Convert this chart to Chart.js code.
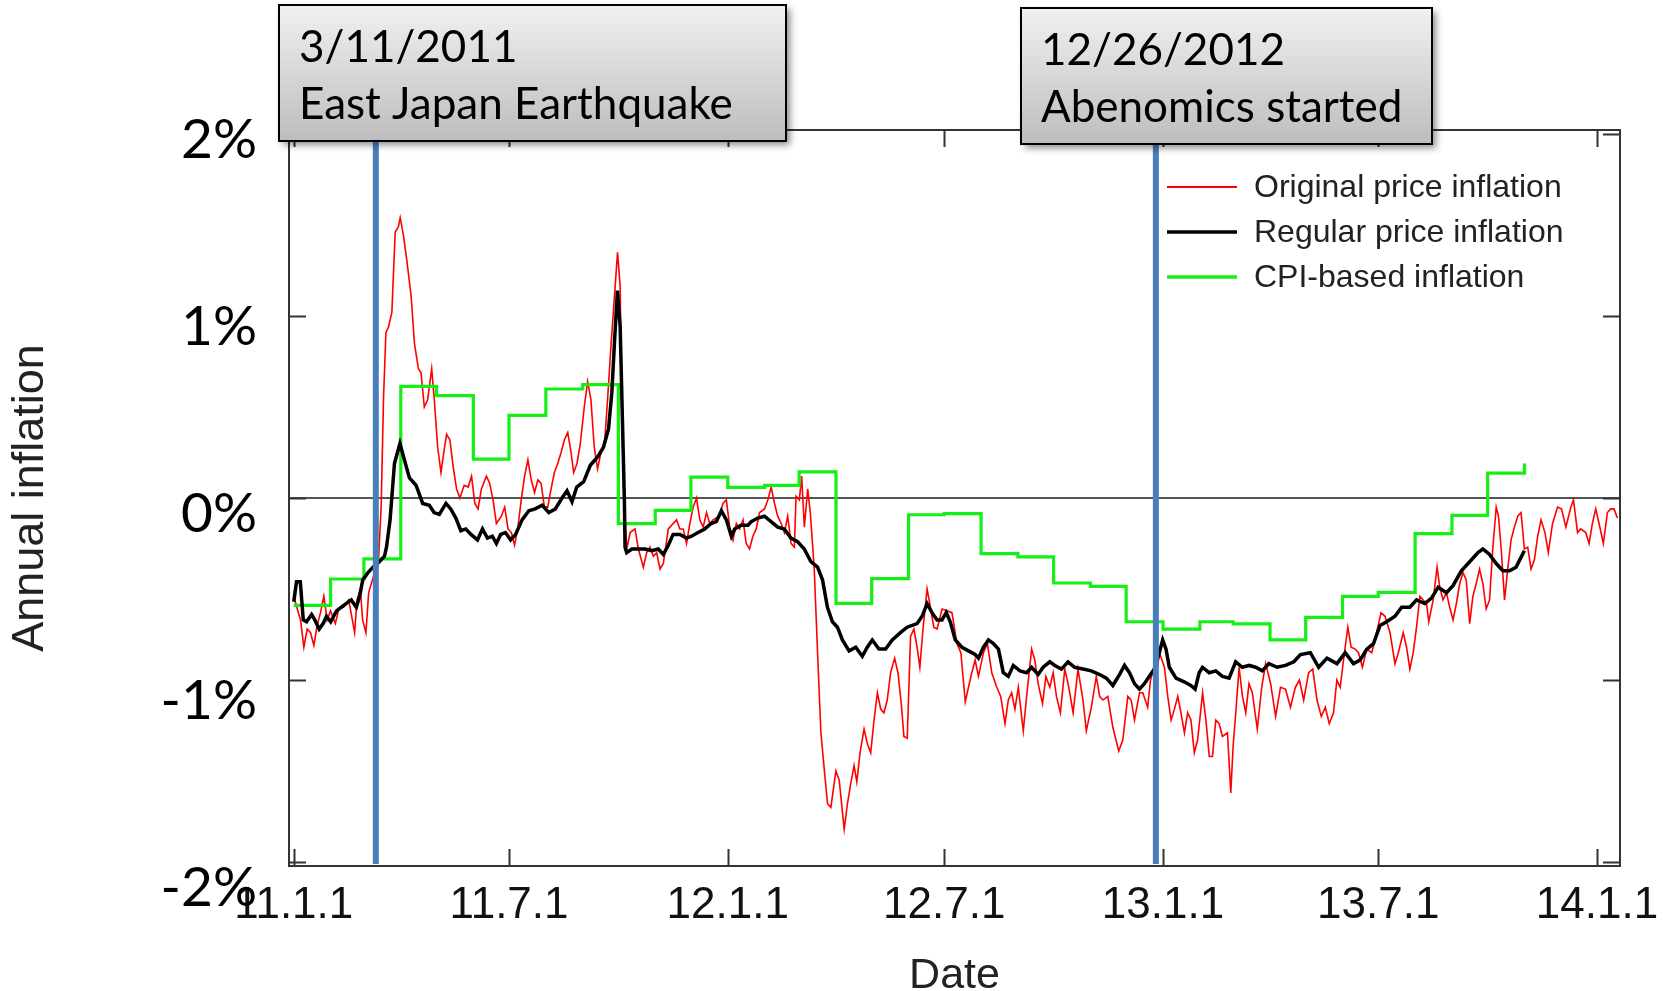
<!DOCTYPE html>
<html>
<head>
<meta charset="utf-8">
<script src="https://cdn.jsdelivr.net/npm/chart.js@4.4.1/dist/chart.umd.min.js"></script>
<style>
  html, body { margin: 0; padding: 0; background: #ffffff; }
  #wrap { width: 1672px; height: 991px; position: relative; }
  canvas { display: block; }
</style>
</head>
<body>
<div id="wrap"><canvas id="chart" width="1672" height="991"></canvas></div>
<script>
// ---- Data (x = days since 2011-01-01, y = annual inflation in %) ----

const seriesNames = ['Original price inflation', 'Regular price inflation', 'CPI-based inflation'];

// Original (posted) price inflation
const originalDays = [
  0, 3, 5.7, 8.5, 11.3, 14.1, 16.9, 19.7, 22.5, 25.3, 28.1, 30.9, 35, 37.8, 42, 46.2, 49, 51.2, 53.2, 56,
  57.9, 60.7, 63, 68, 71, 73.5, 75.5, 77.5, 79.7, 82.5, 85.3, 88, 89.5, 92.3, 95, 98.7, 101.5, 104.8, 107, 109.8,
  112.6, 116, 118.2, 121, 123.8, 126.6, 128.5, 131.3, 134.1, 136.9, 139.7, 143.3, 146.7, 149.5, 152.3, 155, 157.8, 162, 164.8, 167.6,
  170.4, 174.6, 177.4, 180.2, 183, 185.7, 188.5, 191.3, 194.1, 196.9, 199.7, 202.5, 205.3, 208, 210.8, 213.6, 216.4, 219.2, 222, 224.8,
  227.6, 230.4, 233.2, 235.4, 238.2, 241, 244.3, 247.1, 249.9, 252.7, 255.5, 258.3, 261.1, 263.9, 266.7, 269.5, 272.3, 274.5, 275.5, 277.3,
  280, 282.9, 287, 289.8, 294, 296.8, 299.6, 302.4, 305.2, 308, 310.8, 315, 319.1, 321.9, 324.7, 327.5, 330.3, 333.1, 335.9, 338.7,
  341.5, 344.3, 347.1, 349.8, 352.6, 355.4, 358.2, 361, 363.8, 366.6, 369.4, 372.2, 375, 377.8, 380.5, 383.3, 386.1, 388.9, 391.7, 395.9,
  398.7, 401.5, 404.3, 407, 409.9, 412.6, 415.4, 418.2, 421, 422.4, 425.2, 427.1, 429.4, 432.2, 434.4, 437.7, 440.5, 443.3, 446.1, 448.9,
  451.7, 455.9, 458.7, 462.9, 465.6, 468.4, 471.2, 473.5, 476.2, 479.6, 482.4, 485.2, 488, 490.8, 493.6, 496.3, 499.1, 501.9, 505.3, 508.1,
  510.9, 513.1, 515.9, 518.7, 521.5, 524.2, 526.5, 529.3, 532.6, 535.4, 538.2, 541, 545.2, 549.4, 553.5, 557.7, 561, 564.7, 567.4, 570.2,
  573, 575.8, 580, 583.3, 587, 591.2, 594.5, 598.1, 600.9, 603.7, 606.5, 609.3, 613.5, 616.3, 620.5, 623.2, 626, 629.7, 632.5, 635.8,
  638.6, 641.4, 644.7, 648.4, 651.2, 655.4, 659.5, 663.7, 666.5, 670.7, 674.9, 677.7, 680.5, 684.6, 688.8, 693.8, 697.2, 701.4, 704.2, 707,
  711.2, 714, 718.1, 720.5, 723.5, 726, 728, 732.2, 735, 737.8, 740.6, 743.4, 746.1, 749, 751.7, 754.5, 757.3, 760.1, 764.3, 767.1,
  769.9, 772.6, 775.4, 778.2, 781, 785.2, 788, 790, 792.2, 795, 797.8, 800.6, 803.3, 806.1, 810.3, 814, 817.3, 821.5, 825.7, 829.8,
  834, 838.2, 842.3, 845.7, 849.3, 853.5, 856.9, 860.5, 864.1, 867.5, 870.8, 874.4, 877.2, 880, 882.8, 886.4, 889.2, 892.6, 895.4, 898.7,
  902.3, 906.5, 909.3, 914.3, 917.7, 921.9, 926.1, 928.9, 933, 935.8, 938.6, 941.4, 944.2, 947, 949.8, 952.6, 954.5, 958.2, 961.5, 963.7,
  966.5, 969.3, 972.1, 974.9, 977.7, 980.5, 983.3, 986, 988.9, 991.6, 994.4, 997.2, 1000, 1002.8, 1005.6, 1008.4, 1011.2, 1013.1, 1015.4, 1018.2,
  1020.9, 1023.7, 1026.5, 1029.3, 1032.1, 1034.9, 1037.7, 1040.5, 1043.3, 1046.1, 1048.9, 1052.2, 1055, 1058.6, 1062.8, 1066.1, 1069.8, 1074, 1076.2, 1079.6,
  1082.3, 1086.5, 1089.3, 1092.1, 1094.9, 1097.7, 1101.3, 1104.7, 1107.5, 1110.3, 1113.1
];
const originalValues = [
  -0.54, -0.61, -0.67, -0.82, -0.72, -0.74, -0.81, -0.70, -0.63, -0.54, -0.67, -0.62, -0.69, -0.61, -0.60, -0.56, -0.66, -0.74, -0.56, -0.50,
  -0.67, -0.74, -0.52, -0.41, -0.37, -0.05, 0.55, 0.91, 0.94, 1.02, 1.46, 1.49, 1.54, 1.44, 1.31, 1.11, 0.85, 0.71, 0.69, 0.50,
  0.54, 0.71, 0.54, 0.28, 0.14, 0.27, 0.35, 0.32, 0.17, 0.05, 0.00, 0.07, 0.06, 0.12, -0.03, -0.06, 0.05, 0.12, 0.08, -0.01,
  -0.14, -0.10, -0.05, -0.17, -0.19, -0.26, -0.16, -0.01, 0.12, 0.21, 0.10, 0.03, 0.10, 0.08, -0.05, -0.05, 0.05, 0.14, 0.19, 0.25,
  0.32, 0.36, 0.25, 0.14, 0.19, 0.30, 0.50, 0.64, 0.54, 0.28, 0.16, 0.25, 0.28, 0.54, 0.83, 1.09, 1.35, 1.16, 0.60, 0.06,
  -0.28, -0.19, -0.17, -0.28, -0.38, -0.30, -0.27, -0.32, -0.30, -0.39, -0.36, -0.17, -0.14, -0.12, -0.17, -0.17, -0.25, -0.14, -0.05, 0.00,
  -0.12, -0.16, -0.08, -0.14, -0.12, -0.11, -0.09, -0.03, -0.01, -0.16, -0.23, -0.14, -0.17, -0.12, -0.25, -0.28, -0.21, -0.17, -0.08, -0.06,
  -0.01, 0.06, -0.03, -0.10, -0.14, -0.19, -0.10, -0.25, -0.27, 0.01, -0.01, 0.12, -0.16, 0.05, -0.08, -0.39, -0.85, -1.29, -1.49, -1.68,
  -1.70, -1.50, -1.55, -1.82, -1.68, -1.57, -1.47, -1.56, -1.40, -1.27, -1.35, -1.40, -1.22, -1.07, -1.16, -1.18, -1.11, -0.96, -0.88, -0.96,
  -1.13, -1.31, -1.32, -0.76, -0.72, -0.82, -0.93, -0.71, -0.50, -0.60, -0.71, -0.72, -0.61, -0.62, -0.63, -0.80, -0.85, -1.12, -1.04, -0.96,
  -0.89, -0.98, -0.85, -0.80, -0.96, -1.04, -1.09, -1.24, -1.11, -1.07, -1.16, -1.04, -1.28, -1.09, -0.83, -0.89, -1.02, -1.13, -0.98, -1.04,
  -0.96, -1.09, -1.18, -0.94, -1.02, -1.18, -0.94, -1.11, -1.28, -1.15, -0.98, -1.09, -1.11, -1.09, -1.26, -1.39, -1.33, -1.09, -1.11, -1.22,
  -1.07, -1.07, -1.15, -1.00, -0.93, -0.95, -0.85, -0.93, -1.09, -1.22, -1.16, -1.09, -1.18, -1.29, -1.18, -1.22, -1.40, -1.33, -1.07, -1.22,
  -1.42, -1.42, -1.22, -1.24, -1.31, -1.29, -1.62, -1.36, -1.18, -0.93, -1.09, -1.18, -1.02, -1.07, -1.27, -1.04, -0.91, -1.02, -1.20, -1.04,
  -1.05, -1.15, -1.04, -1.00, -1.11, -0.96, -0.94, -1.11, -1.20, -1.15, -1.24, -1.18, -1.00, -1.04, -0.89, -0.71, -0.82, -0.83, -0.85, -0.93,
  -0.83, -0.85, -0.78, -0.63, -0.65, -0.74, -0.91, -0.85, -0.74, -0.82, -0.94, -0.85, -0.71, -0.54, -0.56, -0.58, -0.68, -0.56, -0.38, -0.49,
  -0.56, -0.52, -0.60, -0.67, -0.58, -0.47, -0.41, -0.45, -0.69, -0.54, -0.47, -0.39, -0.47, -0.61, -0.56, -0.27, -0.05, -0.10, -0.28, -0.56,
  -0.39, -0.23, -0.16, -0.10, -0.08, -0.28, -0.27, -0.39, -0.34, -0.21, -0.12, -0.19, -0.30, -0.14, -0.05, -0.06, -0.16, -0.05, -0.01, -0.19,
  -0.17, -0.19, -0.25, -0.14, -0.06, -0.14, -0.25, -0.08, -0.06, -0.06, -0.11
];

// Regular price inflation (temporary sales removed)
const regularDays = [
  0, 2.3, 5.5, 8, 10.8, 15, 17.7, 21.4, 24.7, 27.5, 31, 36, 40, 44, 48.4, 52.6, 55.4, 58, 62.4, 66.6,
  72, 76.3, 78, 81, 84.7, 89.3, 93, 97.3, 102.8, 108.4, 114, 118, 122.4, 128, 132, 136.3, 140.5, 144.7, 149, 154.5,
  158.7, 162.9, 167, 170.4, 174, 178, 182.4, 186.6, 192, 197.7, 203, 209, 214.5, 220, 225.6, 229.8, 234, 238, 243.8, 249.4,
  256, 260.5, 264.7, 267.5, 270, 272.2, 274.5, 276.4, 278, 278.6, 280, 284.3, 290, 295.4, 301, 306.6, 310.8, 315, 319, 324.7,
  330.3, 334.5, 340, 345.6, 351, 355.4, 359.6, 363.8, 368, 370.8, 376.3, 382, 384.7, 390.2, 395.8, 401.4, 407, 412.6, 418.1, 423.7,
  429.3, 434.9, 440.5, 444.7, 448.8, 453, 457.2, 461.4, 467, 472.6, 478.1, 482.3, 486.5, 492.1, 497.7, 503.3, 510.2, 515.8, 524.2, 528.4,
  532.6, 536.7, 541, 545.1, 548.7, 552.1, 556.3, 561.9, 567.4, 573, 575.8, 580, 584.2, 588.4, 592.6, 596.7, 600.9, 605.1, 610.7, 616.3,
  620.5, 626, 630.2, 635.8, 640, 645.6, 651.1, 656.7, 663.7, 670.7, 677.7, 683.3, 688.8, 694.4, 698.6, 702.8, 707, 711.2, 715.3, 719.5,
  723.7, 727.9, 730.7, 733.5, 736.3, 741.9, 748.8, 754.4, 758, 761.4, 764.2, 769.8, 775.4, 781, 786.6, 792.1, 797.7, 803.3, 808.9, 814.5,
  820, 827, 834, 841, 846.6, 854.9, 861.9, 868.9, 877.3, 884.2, 891.2, 896.8, 902.4, 908, 913.5, 919.1, 926.1, 931.7, 938.6, 944.2,
  951.2, 956.8, 962.4, 969.4, 975, 981.9, 988.9, 995.9, 1000, 1005.6, 1011.2, 1016.8, 1022.4, 1027.9, 1034.9
];
const regularValues = [
  -0.57, -0.46, -0.46, -0.67, -0.68, -0.64, -0.67, -0.72, -0.69, -0.65, -0.68, -0.62, -0.60, -0.58, -0.56, -0.60, -0.54, -0.45, -0.41, -0.38,
  -0.35, -0.32, -0.27, -0.12, 0.19, 0.30, 0.21, 0.11, 0.07, -0.03, -0.04, -0.08, -0.09, -0.03, -0.06, -0.11, -0.18, -0.17, -0.20, -0.23,
  -0.17, -0.22, -0.21, -0.25, -0.20, -0.19, -0.23, -0.20, -0.12, -0.07, -0.06, -0.04, -0.08, -0.06, 0.00, 0.04, -0.02, 0.06, 0.09, 0.18,
  0.23, 0.28, 0.38, 0.58, 0.89, 1.14, 0.94, 0.43, 0.00, -0.27, -0.30, -0.28, -0.28, -0.28, -0.29, -0.28, -0.31, -0.26, -0.20, -0.20,
  -0.22, -0.21, -0.19, -0.17, -0.14, -0.13, -0.07, -0.12, -0.21, -0.17, -0.15, -0.15, -0.13, -0.11, -0.10, -0.13, -0.16, -0.17, -0.22, -0.24,
  -0.28, -0.35, -0.38, -0.45, -0.60, -0.68, -0.71, -0.78, -0.84, -0.82, -0.87, -0.82, -0.78, -0.83, -0.83, -0.78, -0.74, -0.71, -0.69, -0.65,
  -0.58, -0.63, -0.67, -0.67, -0.63, -0.68, -0.78, -0.82, -0.84, -0.86, -0.88, -0.82, -0.78, -0.80, -0.83, -0.96, -0.98, -0.92, -0.95, -0.96,
  -0.93, -0.97, -0.93, -0.90, -0.92, -0.94, -0.90, -0.93, -0.94, -0.95, -0.97, -0.99, -1.03, -0.97, -0.92, -0.96, -1.02, -1.05, -1.02, -0.98,
  -0.94, -0.85, -0.78, -0.83, -0.93, -0.99, -1.01, -1.03, -1.05, -0.96, -0.93, -0.96, -0.95, -0.98, -0.99, -0.90, -0.93, -0.92, -0.93, -0.95,
  -0.91, -0.93, -0.92, -0.90, -0.86, -0.85, -0.93, -0.88, -0.91, -0.85, -0.91, -0.89, -0.83, -0.80, -0.70, -0.68, -0.65, -0.60, -0.60, -0.56,
  -0.58, -0.55, -0.49, -0.52, -0.48, -0.40, -0.35, -0.30, -0.28, -0.31, -0.36, -0.40, -0.40, -0.38, -0.29
];

// CPI-based inflation, monthly (value holds from the first day of each month)
const cpiDays = [
  0, 31, 59, 90, 120, 151, 181, 212, 243, 273, 304, 334,
  365, 396, 425, 456, 486, 517, 547, 578, 609, 639, 670, 700,
  731, 762, 790, 821, 851, 882, 912, 943, 974, 1004, 1035
];
const cpiValues = [
  -0.59, -0.445, -0.335, 0.613, 0.562, 0.214, 0.454, 0.599, 0.623, -0.141, -0.068, 0.115,
  0.058, 0.069, 0.143, -0.579, -0.443, -0.092, -0.086, -0.306, -0.324, -0.467, -0.486, -0.68,
  -0.72, -0.68, -0.692, -0.779, -0.656, -0.54, -0.519, -0.196, -0.095, 0.137, 0.19
];

// Axis ticks
const xTickDays = [0, 181, 365, 547, 731, 912, 1096];
const xTickLabels = ['11.1.1', '11.7.1', '12.1.1', '12.7.1', '13.1.1', '13.7.1', '14.1.1'];
const yTickValues = [-2, -1, 0, 1, 2];
const yTickLabels = ['-2%', '-1%', '0%', '1%', '2%'];

// Events
const eventDays = [69, 725];
const eventDates = ['3/11/2011', '12/26/2012'];
const eventNames = ['East Japan Earthquake', 'Abenomics started'];

const toPoints = (xs, ys) => xs.map((x, i) => ({ x: x, y: ys[i] }));

// ---- Plugins ----

// Plot frame with inward tick marks on all four sides
const framePlugin = {
  id: 'frame',
  beforeDatasetsDraw(chart, args, o) {
    const { ctx, chartArea: a, scales } = chart;
    ctx.save();
    ctx.strokeStyle = o.color;
    ctx.lineWidth = o.width;
    ctx.strokeRect(a.left, a.top, a.right - a.left, a.bottom - a.top);
    ctx.beginPath();
    scales.x.ticks.forEach(t => {
      const px = Math.round(scales.x.getPixelForValue(t.value)) + 0.5;
      ctx.moveTo(px, a.bottom); ctx.lineTo(px, a.bottom - o.len);
      ctx.moveTo(px, a.top); ctx.lineTo(px, a.top + o.len);
    });
    scales.y.ticks.forEach(t => {
      const py = Math.round(scales.y.getPixelForValue(t.value)) + 0.5;
      ctx.moveTo(a.left, py); ctx.lineTo(a.left + o.len, py);
      ctx.moveTo(a.right, py); ctx.lineTo(a.right - o.len, py);
    });
    ctx.stroke();
    ctx.restore();
  }
};

// Vertical event markers
const eventLinePlugin = {
  id: 'eventLines',
  afterDatasetsDraw(chart, args, o) {
    const { ctx, chartArea: a, scales } = chart;
    ctx.save();
    ctx.strokeStyle = o.color;
    ctx.lineWidth = o.width;
    eventDays.forEach(d => {
      const px = scales.x.getPixelForValue(d);
      ctx.beginPath();
      ctx.moveTo(px, a.top);
      ctx.lineTo(px, a.bottom - 2);
      ctx.stroke();
    });
    ctx.restore();
  }
};

// Legend drawn inside the plot, top right
const insideLegendPlugin = {
  id: 'insideLegend',
  afterDatasetsDraw(chart, args, o) {
    const { ctx } = chart;
    ctx.save();
    ctx.font = o.font;
    ctx.textBaseline = 'middle';
    ctx.textAlign = 'left';
    chart.data.datasets.forEach((ds, i) => {
      const y = o.y + i * o.rowGap;
      ctx.strokeStyle = ds.borderColor;
      ctx.lineWidth = o.lineWidths[i];
      ctx.beginPath();
      ctx.moveTo(o.x, y);
      ctx.lineTo(o.x + o.lineLen, y);
      ctx.stroke();
      ctx.fillStyle = o.textColor;
      ctx.fillText(ds.label, o.x + o.lineLen + o.textGap, y + 1);
    });
    ctx.restore();
  }
};

// Percent labels beside the vertical axis
const percentLabelPlugin = {
  id: 'percentLabels',
  afterDraw(chart, args, o) {
    const { ctx, scales } = chart;
    ctx.save();
    ctx.font = o.font;
    ctx.fillStyle = o.color;
    ctx.textAlign = 'right';
    ctx.textBaseline = 'middle';
    yTickValues.forEach((v, i) => {
      const py = scales.y.getPixelForValue(v) * o.stretch + o.shift;
      ctx.fillText(yTickLabels[i], o.x, py);
    });
    ctx.restore();
  }
};

// Call-out boxes naming each event
const calloutPlugin = {
  id: 'callouts',
  afterDraw(chart, args, o) {
    const { ctx } = chart;
    o.boxes.forEach((b, i) => {
      ctx.save();
      ctx.shadowColor = 'rgba(0,0,0,0.45)';
      ctx.shadowBlur = 7;
      ctx.shadowOffsetX = 4;
      ctx.shadowOffsetY = 4;
      const g = ctx.createLinearGradient(0, b.top, 0, b.top + b.height);
      g.addColorStop(0, '#f1f1f1');
      g.addColorStop(1, '#bdbdbd');
      ctx.fillStyle = g;
      ctx.fillRect(b.left, b.top, b.width, b.height);
      ctx.restore();

      ctx.save();
      ctx.strokeStyle = '#000000';
      ctx.lineWidth = 2;
      ctx.strokeRect(b.left, b.top, b.width, b.height);
      ctx.font = o.font;
      ctx.fillStyle = '#000000';
      ctx.textAlign = 'left';
      ctx.textBaseline = 'alphabetic';
      ctx.fillText(eventDates[i], b.left + o.padLeft, b.top + o.line1);
      ctx.fillText(eventNames[i], b.left + o.padLeft, b.top + o.line2);
      ctx.restore();
    });
  }
};

// ---- Chart ----

const ctx = document.getElementById('chart').getContext('2d');
new Chart(ctx, {
  type: 'line',
  data: {
    datasets: [
      {
        label: seriesNames[0],
        data: toPoints(originalDays, originalValues),
        borderColor: '#ff0000',
        borderWidth: 1.6,
        pointRadius: 0,
        tension: 0,
        order: 2
      },
      {
        label: seriesNames[1],
        data: toPoints(regularDays, regularValues),
        borderColor: '#000000',
        borderWidth: 3.5,
        pointRadius: 0,
        tension: 0,
        order: 0
      },
      {
        label: seriesNames[2],
        data: toPoints(cpiDays, cpiValues),
        borderColor: '#16ef16',
        borderWidth: 3.2,
        pointRadius: 0,
        stepped: true,
        order: 1
      }
    ]
  },
  options: {
    responsive: false,
    animation: false,
    devicePixelRatio: 1,
    layout: { padding: { left: 0, right: 46, top: 130, bottom: 0 } },
    plugins: {
      legend: { display: false },
      tooltip: { enabled: false },
      frame: { color: '#333333', width: 2, len: 17 },
      eventLines: { color: '#4a7ebb', width: 6 },
      insideLegend: {
        x: 1167, y: 187, rowGap: 45, lineLen: 70, textGap: 17,
        lineWidths: [2, 3.5, 3.5],
        font: '32px "Liberation Sans", Arial, sans-serif', textColor: '#222222'
      },
      percentLabels: {
        x: 257, stretch: 1.028, shift: 2.5,
        font: '55px Lato, "Open Sans", sans-serif', color: '#000000'
      },
      callouts: {
        font: '44px Lato, "Open Sans", sans-serif',
        padLeft: 20, line1: 57, line2: 114,
        boxes: [
          { left: 279, top: 5, width: 507, height: 136 },
          { left: 1021, top: 8, width: 411, height: 136 }
        ]
      }
    },
    scales: {
      x: {
        type: 'linear',
        min: -4,
        max: 1115.3,
        afterBuildTicks: s => { s.ticks = xTickDays.map(v => ({ value: v })); },
        afterFit: s => { s.height = 125; },
        grid: { display: false, drawTicks: false },
        border: { display: false },
        ticks: {
          autoSkip: false,
          maxRotation: 0,
          padding: 13,
          color: '#111111',
          font: { family: '"Liberation Sans", Arial, sans-serif', size: 44 },
          callback: v => {
            const i = xTickDays.indexOf(v);
            return i >= 0 ? xTickLabels[i] : '';
          }
        },
        title: {
          display: true,
          text: 'Date',
          color: '#222222',
          font: { family: '"Liberation Sans", Arial, sans-serif', size: 43, lineHeight: 0.68 },
          padding: { top: 0, bottom: 0 }
        }
      },
      y: {
        type: 'linear',
        min: -2.022,
        max: 2.022,
        afterBuildTicks: s => { s.ticks = yTickValues.map(v => ({ value: v })); },
        afterFit: s => { s.width = 289; },
        grid: {
          drawTicks: false,
          lineWidth: 2,
          color: c => (c.tick && c.tick.value === 0 ? '#555555' : 'rgba(0,0,0,0)')
        },
        border: { display: false },
        ticks: { display: false },
        title: {
          display: true,
          text: 'Annual inflation',
          color: '#222222',
          font: { family: '"Liberation Sans", Arial, sans-serif', size: 45 },
          padding: { top: 4, bottom: 0 }
        }
      }
    }
  },
  plugins: [framePlugin, eventLinePlugin, insideLegendPlugin, percentLabelPlugin, calloutPlugin]
});
</script>
</body>
</html>
